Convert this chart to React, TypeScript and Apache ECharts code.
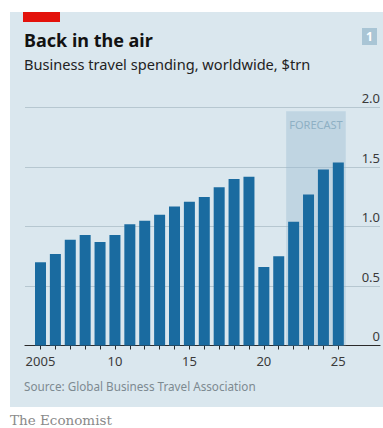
import React, { useEffect, useRef } from "react";
import * as echarts from "echarts";

const years = [2005, 2006, 2007, 2008, 2009, 2010, 2011, 2012, 2013, 2014, 2015, 2016, 2017, 2018, 2019, 2020, 2021, 2022, 2023, 2024, 2025];
const spending = [0.70, 0.77, 0.89, 0.93, 0.87, 0.93, 1.02, 1.05, 1.10, 1.17, 1.21, 1.25, 1.33, 1.40, 1.42, 0.66, 0.75, 1.04, 1.27, 1.48, 1.54];
const xLabelYears = [2005, 2010, 2015, 2020, 2025];
const forecastStart = 2022;
const forecastEnd = 2025;

export default function App() {
  const ref = useRef<HTMLDivElement>(null);
  useEffect(() => {
    if (!ref.current) return;
    const chart = echarts.init(ref.current, null, { renderer: "svg" });
    const font = "'Noto Sans', sans-serif";
    chart.setOption({
      animation: false,
      backgroundColor: "#ffffff",
      textStyle: { fontFamily: font },
      graphic: [
        { type: "rect", z: -10, shape: { x: 10, y: 12, width: 373, height: 395 }, style: { fill: "#dae7ee" } },
        { type: "rect", shape: { x: 23, y: 12, width: 37, height: 10 }, style: { fill: "#e3120b" } },
        { type: "rect", shape: { x: 362, y: 28, width: 15, height: 17 }, style: { fill: "#a9c5d5" } },
        { type: "text", x: 369.5, y: 36.5, style: { text: "1", fill: "#ffffff", font: `bold 12px ${font}`, align: "center", verticalAlign: "middle" } },
        { type: "text", x: 24, y: 31, style: { text: "Back in the air", fill: "#121212", font: `bold 18px ${font}` } },
        { type: "text", x: 24, y: 56, style: { text: "Business travel spending, worldwide, $trn", fill: "#222222", font: `14.6px ${font}` } },
        { type: "text", x: 24, y: 380, style: { text: "Source: Global Business Travel Association", fill: "#7d8a91", font: `11.7px ${font}` } },
        { type: "text", x: 10, y: 413, style: { text: "The Economist", fill: "#8a8a8a", font: `13.5px 'DejaVu Serif', serif` } },
      ],
      grid: { left: 25, right: 3, top: 107.7, bottom: 82.5, containLabel: false },
      xAxis: {
        type: "value",
        min: 2003.96,
        max: 2027.8,
        splitLine: { show: false },
        axisLine: { show: true, lineStyle: { color: "#2b2b2b", width: 1.2 } },
        axisTick: { show: true, customValues: years, length: 4, lineStyle: { color: "#2b2b2b" } },
        axisLabel: {
          customValues: xLabelYears,
          margin: 9,
          color: "#3a3a3a",
          fontSize: 13,
          fontFamily: font,
          formatter: (v: number) => (v === xLabelYears[0] ? String(v) : String(v).slice(2)),
        },
      },
      yAxis: {
        type: "value",
        position: "right",
        min: 0,
        max: 2,
        interval: 0.5,
        axisLine: { show: false },
        axisTick: { show: false },
        splitLine: { lineStyle: { color: "#b6c7d0", width: 1 } },
        axisLabel: {
          inside: true,
          margin: 0,
          align: "right",
          verticalAlign: "bottom",
          padding: [0, 0, 3, 0],
          color: "#3a3a3a",
          fontSize: 13,
          fontFamily: font,
          formatter: (v: number) => (v === 0 ? "0" : v.toFixed(1)),
        },
      },
      series: [
        {
          type: "bar",
          barWidth: 11,
          data: years.map((y, i) => [y, spending[i]]),
          itemStyle: { color: "#1a6ba0" },
          z: 3,
          markArea: {
            silent: true,
            itemStyle: { color: "rgba(150,185,208,0.38)" },
            label: {
              show: true,
              position: "insideTop",
              distance: 8,
              color: "#8eb0c4",
              fontSize: 11,
              fontFamily: font,
            },
            data: [
              [
                { name: "FORECAST", xAxis: forecastStart - 0.5, yAxis: 1.97 },
                { xAxis: forecastEnd + 0.5, yAxis: 0 },
              ],
            ],
          },
        },
      ],
    });
    return () => chart.dispose();
  }, []);
  return <div ref={ref} style={{ position: "fixed", left: 0, top: 0, width: 383, height: 428 }} />;
}
